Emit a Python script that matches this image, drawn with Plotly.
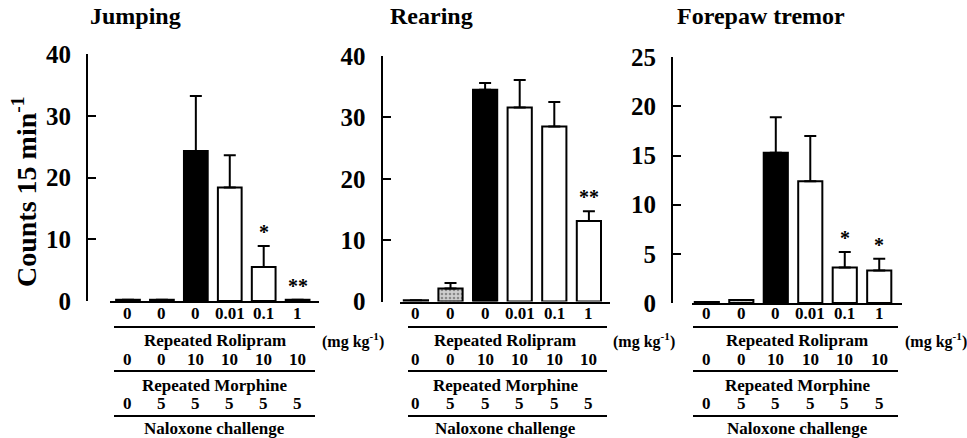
import plotly.graph_objects as go

# ---------------- data ----------------
challenge_rolipram = ["0", "0", "0", "0.01", "0.1", "1"]
repeated_rolipram = ["0", "0", "10", "10", "10", "10"]
repeated_morphine = ["0", "5", "5", "5", "5", "5"]

jumping_mean = [0.2, 0.2, 24.3, 18.4, 5.5, 0.2]
jumping_sem = [None, None, 8.9, 5.2, 3.4, None]
jumping_sig = ["", "", "", "", "*", "**"]

rearing_mean = [0.2, 2.1, 34.5, 31.6, 28.5, 13.1]
rearing_sem = [None, 0.9, 1.1, 4.5, 4.0, 1.6]
rearing_sig = ["", "", "", "", "", "**"]

tremor_mean = [0.1, 0.3, 15.3, 12.4, 3.6, 3.3]
tremor_sem = [None, None, 3.6, 4.6, 1.6, 1.2]
tremor_sig = ["", "", "", "", "*", "*"]

panel_titles = ["Jumping", "Rearing", "Forepaw tremor"]
y_ticks_40 = [0, 10, 20, 30, 40]
y_ticks_25 = [0, 5, 10, 15, 20, 25]

# ---------------- layout helpers ----------------
W, H = 967, 438
def px(x):
    return x / W
def py(y):
    return 1 - y / H

FONT = "Liberation Serif"
bar_fill = ["white", "#cfcfcf", "black", "white", "white", "white"]
bar_pattern = ["", ".", "", "", "", ""]

panels = [
    dict(mean=jumping_mean, err=jumping_sem, sig=jumping_sig, ticks=y_ticks_40,
         xdom=(110, 319), ydom=(301, 54), yx=87, xr=(-0.53, 5.63), tx=88,
         line=(114, 315)),
    dict(mean=rearing_mean, err=rearing_sem, sig=rearing_sig, ticks=y_ticks_40,
         xdom=(400, 610), ydom=(301.5, 56), yx=381.5, xr=(-0.46, 5.61), tx=388,
         line=(408, 607)),
    dict(mean=tremor_mean, err=tremor_sem, sig=tremor_sig, ticks=y_ticks_25,
         xdom=(692, 902), ydom=(303, 57.3), yx=672, xr=(-0.43, 5.66), tx=675,
         line=(693, 898)),
]

fig = go.Figure()
annotations = []
shapes = []
cats = list(range(len(challenge_rolipram)))

def bold(size):
    return dict(family=FONT, size=size, color="black", weight="bold")

for i, p in enumerate(panels):
    n = "" if i == 0 else str(i + 1)
    xa, ya = "x" + n, "y" + n
    fig.add_trace(go.Bar(
        x=cats, y=p["mean"], xaxis=xa, yaxis=ya, width=0.7,
        marker=dict(color=bar_fill, line=dict(color="black", width=2),
                    pattern=dict(shape=bar_pattern, fgcolor="#333333", size=4,
                                 solidity=0.35, fillmode="overlay")),
        error_y=dict(type="data", symmetric=False, array=p["err"],
                     arrayminus=[0] * 6, color="black", thickness=2, width=6),
        showlegend=False, hoverinfo="skip"))

    fig.update_layout(**{
        "xaxis" + n: dict(domain=[px(p["xdom"][0]), px(p["xdom"][1])],
                          range=list(p["xr"]), anchor=ya, showline=True,
                          linecolor="black", linewidth=2, ticks="",
                          showticklabels=False, showgrid=False, zeroline=False,
                          automargin=False, fixedrange=True),
        "yaxis" + n: dict(domain=[py(p["ydom"][0]), py(p["ydom"][1])],
                          range=[0, p["ticks"][-1]], anchor="free",
                          position=px(p["yx"]), showline=True, linecolor="black",
                          linewidth=2, ticks="inside", ticklen=8, tickwidth=2,
                          tickcolor="black", tickvals=p["ticks"],
                          ticklabelstandoff=10, tickfont=bold(25),
                          showgrid=False, zeroline=False, automargin=False,
                          fixedrange=True),
    })

    # panel title
    annotations.append(dict(text=panel_titles[i], x=px(p["tx"]), y=py(16),
                            xref="paper", yref="paper", xanchor="left",
                            yanchor="middle", showarrow=False, font=bold(24)))
    # significance stars
    for c in cats:
        if p["sig"][c]:
            top = p["mean"][c] + (p["err"][c] or 0)
            annotations.append(dict(text=p["sig"][c], x=c, y=top, xref=xa,
                                    yref=ya, xanchor="center", yanchor="bottom",
                                    yshift=1, showarrow=False, font=bold(20)))
    # table rows
    for c in cats:
        for row, yy in ((challenge_rolipram, 313), (repeated_rolipram, 359),
                        (repeated_morphine, 403)):
            annotations.append(dict(text=row[c], x=c, y=py(yy), xref=xa,
                                    yref="paper", xanchor="center",
                                    yanchor="middle", showarrow=False,
                                    font=bold(17)))
    xc = px((p["xdom"][0] + p["xdom"][1]) / 2)
    for label, yy in (("Repeated Rolipram", 340), ("Repeated Morphine", 385),
                      ("Naloxone challenge", 428)):
        annotations.append(dict(text=label, x=xc, y=py(yy), xref="paper",
                                yref="paper", xanchor="center", yanchor="middle",
                                showarrow=False, font=bold(17)))
    annotations.append(dict(text="(mg kg<sup>-1</sup>)", x=px(p["xdom"][1] + 1),
                            y=py(340), xref="paper", yref="paper",
                            xanchor="left", yanchor="middle", showarrow=False,
                            font=bold(16)))
    for yy in (327, 371, 416):
        shapes.append(dict(type="line", xref="paper", yref="paper",
                           x0=px(p["line"][0]), x1=px(p["line"][1]),
                           y0=py(yy), y1=py(yy),
                           line=dict(color="black", width=2)))

# y-axis title
annotations.append(dict(text="Counts 15 min<sup>-1</sup>", x=px(24), y=py(192),
                        xref="paper", yref="paper", xanchor="center",
                        yanchor="middle", textangle=-90, showarrow=False,
                        font=bold(28)))

fig.update_layout(width=W, height=H, autosize=False,
                  margin=dict(l=0, r=0, t=0, b=0, pad=0, autoexpand=False),
                  paper_bgcolor="white", plot_bgcolor="white",
                  bargap=0.3, annotations=annotations, shapes=shapes)

fig.write_html("out.html", config={"displayModeBar": False},
               post_script="document.body.style.margin='0';"
                           "document.body.style.padding='0';")
